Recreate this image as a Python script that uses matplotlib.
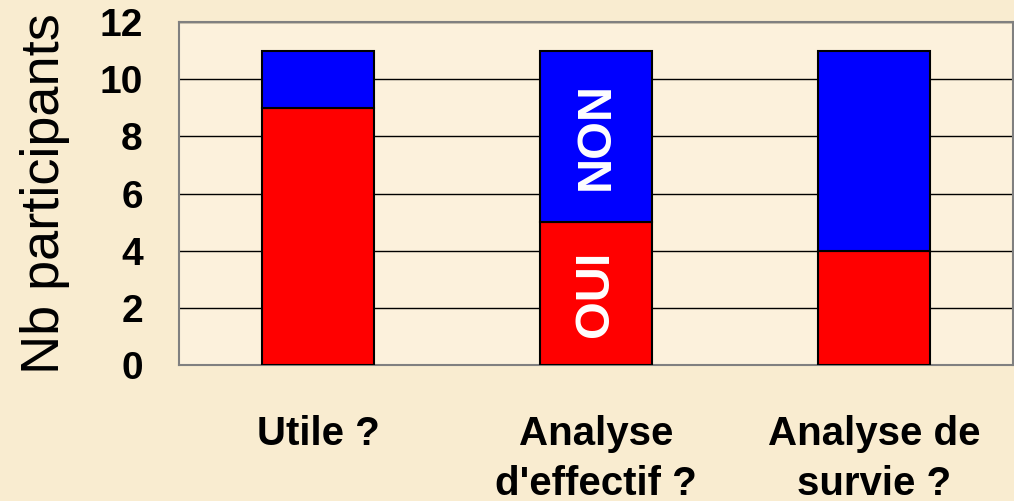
import matplotlib
matplotlib.use("Agg")
import matplotlib.pyplot as plt
import numpy as np

categories = ["Utile ?", "Analyse\nd'effectif ?", "Analyse de\nsurvie ?"]
oui = [9, 5, 4]
non = [2, 6, 7]
yticks = [0, 2, 4, 6, 8, 10, 12]
ylabel = "Nb participants"
inner_labels = ["OUI", "NON"]

plt.rcParams['font.family'] = ['Liberation Sans', 'DejaVu Sans']

fig = plt.figure(figsize=(10.14, 5.01), dpi=100)
fig.patch.set_facecolor('#F9ECD0')
ax = fig.add_axes([0.1765, 0.2715, 0.8225, 0.6845])
ax.set_facecolor('#FCF1DC')

x = np.arange(len(categories))
ax.bar(x, oui, width=0.4, color='#FF0000', edgecolor='black', linewidth=1.5, zorder=3)
ax.bar(x, non, width=0.4, bottom=oui, color='#0000FF', edgecolor='black', linewidth=1.5, zorder=3)

ax.set_xlim(-0.5, 2.5)
ax.set_ylim(0, 12)
ax.set_yticks(yticks)
ax.set_yticklabels([str(v) for v in yticks], fontsize=28, fontweight='bold')
ax.set_xticks(x)
ax.set_xticklabels(categories, fontsize=29, fontweight='bold', linespacing=1.4, va='top')
ax.tick_params(axis='both', length=0)
ax.tick_params(axis='y', pad=26)
ax.tick_params(axis='x', pad=36)
ax.yaxis.grid(True, color='black', linewidth=1.0, zorder=0)
ax.set_axisbelow(True)
for s in ax.spines.values():
    s.set_color('#808080')
    s.set_linewidth(1.5)

ax.set_ylabel(ylabel, fontsize=39)
ax.yaxis.set_label_coords(-0.131, 0.5)

# inner labels on middle bar
ax.text(x[1], oui[1] / 2, inner_labels[0], rotation=90, ha='center', va='center',
        color='white', fontsize=35, fontweight='bold', zorder=4)
ax.text(x[1], oui[1] + non[1] / 2, inner_labels[1], rotation=90, ha='center', va='center',
        color='white', fontsize=35, fontweight='bold', zorder=4)

fig.savefig('out.png', dpi=100, facecolor=fig.get_facecolor())
